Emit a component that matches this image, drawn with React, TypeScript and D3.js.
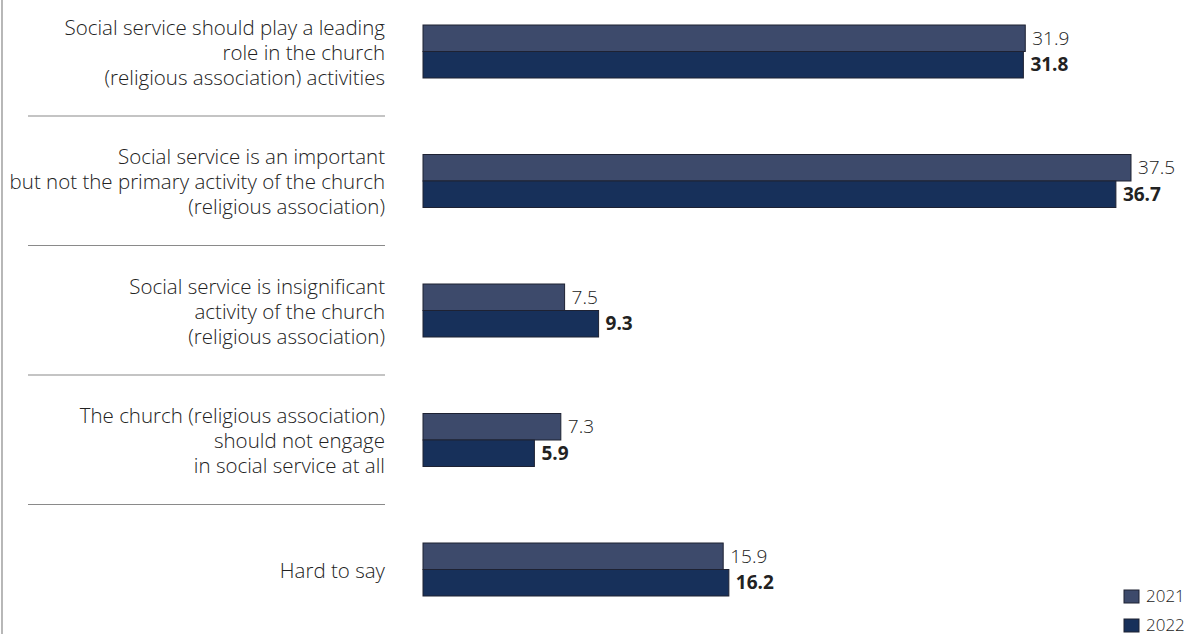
import React from "react";
import * as d3 from "d3";

const categories: string[][] = [
  ["Social service should play a leading", "role in the church", "(religious association) activities"],
  ["Social service is an important", "but not the primary activity of the church", "(religious association)"],
  ["Social service is insignificant", "activity of the church", "(religious association)"],
  ["The church (religious association)", "should not engage", "in social service at all"],
  ["Hard to say"],
];
const series2021: number[] = [31.9, 37.5, 7.5, 7.3, 15.9];
const series2022: number[] = [31.8, 36.7, 9.3, 5.9, 16.2];
const seriesNames: string[] = ["2021", "2022"];
const colors: string[] = ["#3d4a6b", "#17305a"];

const W = 1190;
const H = 634;

export default function App() {
  const x = d3.scaleLinear().domain([0, 37.5]).range([423, 1131]);
  const groupTop = 25;
  const groupStep = 129.5;
  const barH = 26.5;
  const font = "'Open Sans', sans-serif";

  return (
    <svg width={W} height={H} style={{ position: "absolute", left: 0, top: 0, background: "#fff" }}>
      <line x1={2} x2={2} y1={0} y2={H} stroke="#888" strokeWidth={1.2} />
      {categories.map((lines, i) => {
        const y0 = groupTop + i * groupStep;
        const center = y0 + barH + 1;
        const lh = 25;
        const startY = center - ((lines.length - 1) * lh) / 2;
        return (
          <g key={i}>
            {lines.map((t, j) => (
              <text
                key={j}
                x={385}
                y={startY + j * lh}
                dy="0.35em"
                textAnchor="end"
                fontFamily={font}
                fontWeight={300}
                fontSize={20.5}
                fill="#222"
              >
                {t}
              </text>
            ))}
            {i < categories.length - 1 && (
              <line x1={28} x2={385} y1={y0 + 91} y2={y0 + 91} stroke="#8a8a8a" strokeWidth={1.2} />
            )}
            {[series2021[i], series2022[i]].map((v, k) => (
              <g key={k}>
                <rect
                  x={x(0)}
                  y={y0 + k * barH}
                  width={x(v) - x(0)}
                  height={barH}
                  fill={colors[k]}
                  stroke="#1e2233"
                  strokeWidth={1}
                />
                <text
                  x={x(v) + 7}
                  y={y0 + k * barH + barH / 2}
                  dy="0.35em"
                  fontFamily={font}
                  fontWeight={k === 0 ? 300 : 700}
                  fontSize={19}
                  fill="#222"
                >
                  {v.toFixed(1)}
                </text>
              </g>
            ))}
          </g>
        );
      })}
      {seriesNames.map((n, k) => (
        <g key={n}>
          <rect x={1124} y={590 + k * 29} width={15} height={13} fill={colors[k]} stroke="#1e2233" strokeWidth={1} />
          <text x={1146} y={596.5 + k * 29} dy="0.35em" fontFamily={font} fontWeight={300} fontSize={17} fill="#222">
            {n}
          </text>
        </g>
      ))}
    </svg>
  );
}
